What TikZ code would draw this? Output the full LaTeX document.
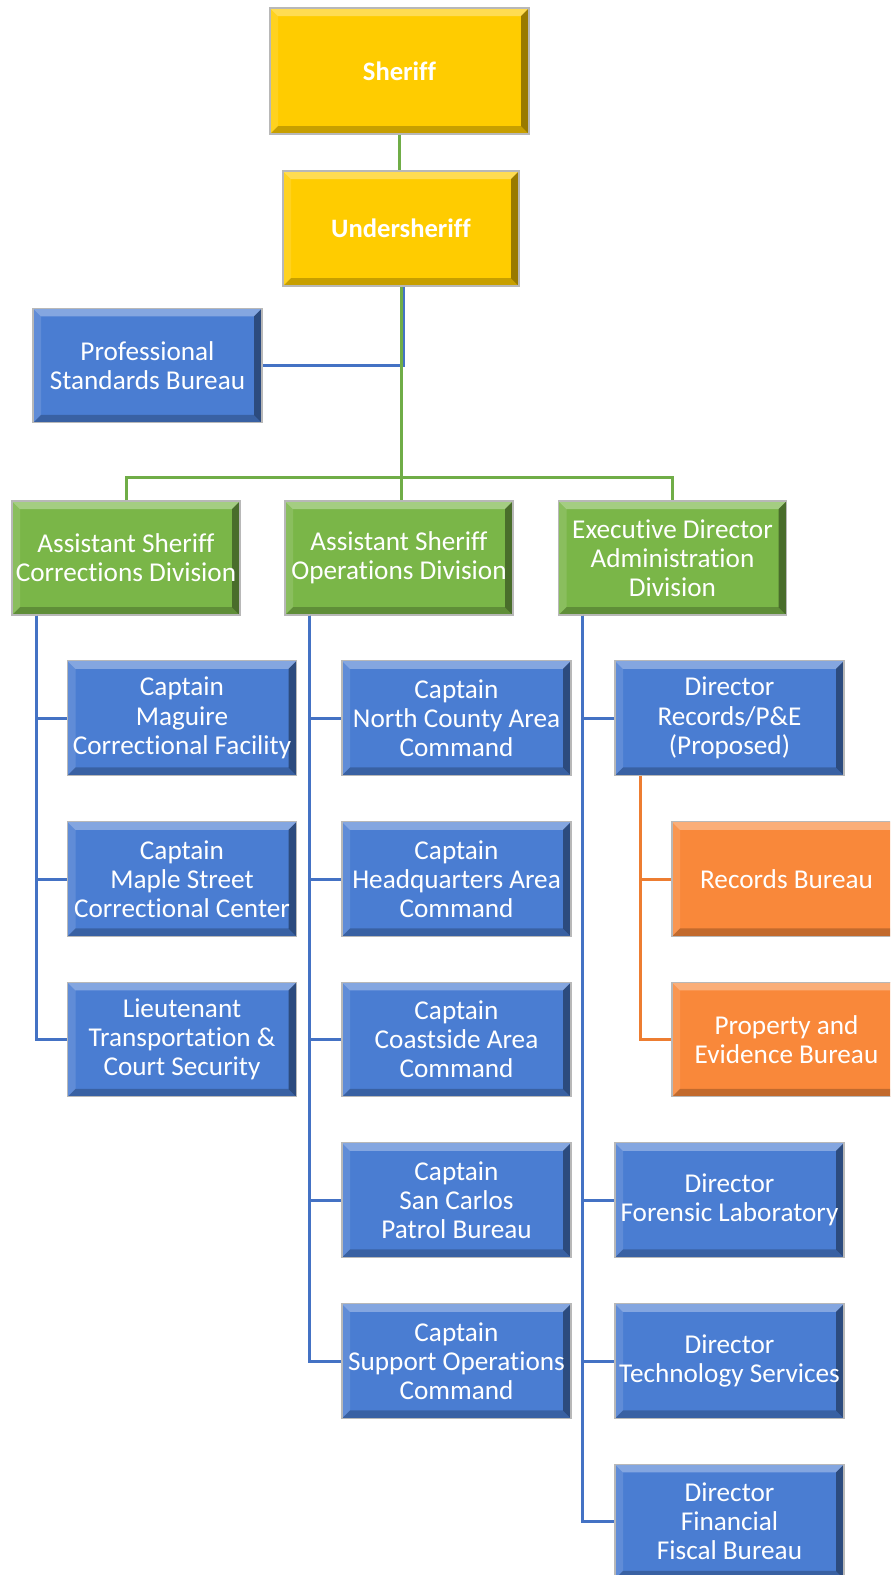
\documentclass[tikz,border=0pt]{standalone}
\usepackage{fontspec}
\setmainfont{Carlito}[Ligatures=NoCommon]
\usetikzlibrary{calc,positioning}
\definecolor{sheriffgold}{RGB}{255,204,0}
\definecolor{boxblue}{RGB}{74,125,210}
\definecolor{boxgreen}{RGB}{122,182,72}
\definecolor{boxorange}{RGB}{249,136,58}
\definecolor{linegreen}{RGB}{112,173,71}
\definecolor{lineblue}{RGB}{68,114,196}
\definecolor{lineorange}{RGB}{237,125,49}
\tikzset{
  bevel/.style={draw=black!28,line width=0.7pt,text=white,align=center,inner sep=0pt,
    font=\fontsize{13.6}{14.6}\selectfont,minimum width=114.5pt,minimum height=57.25pt,
    path picture={
      \coordinate (bnw) at (path picture bounding box.north west);
      \coordinate (bse) at (path picture bounding box.south east);
      \coordinate (bne) at (bse |- bnw);
      \coordinate (bsw) at (bnw |- bse);
      \fill[white,opacity=.32] (bnw) -- (bne) -- ++(-4pt,-4pt) -- ($(bnw)+(4pt,-4pt)$) -- cycle;
      \fill[black,opacity=.40] (bne) -- (bse) -- ++(-4pt,4pt) -- ($(bne)+(-4pt,-4pt)$) -- cycle;
      \fill[black,opacity=.22] (bsw) -- (bse) -- ++(-4pt,4pt) -- ($(bsw)+(4pt,4pt)$) -- cycle;
      \fill[white,opacity=.12] (bnw) -- (bsw) -- ++(4pt,4pt) -- ($(bnw)+(4pt,-4pt)$) -- cycle;
    }},
  goldbox/.style={bevel,fill=sheriffgold,font=\fontsize{13.3}{14.6}\selectfont\bfseries},
  bluebox/.style={bevel,fill=boxblue},
  greenbox/.style={bevel,fill=boxgreen},
  orangebox/.style={bevel,fill=boxorange},
  gline/.style={draw=linegreen,line width=1.5pt},
  bline/.style={draw=lineblue,line width=1.5pt},
  oline/.style={draw=lineorange,line width=1.5pt}
}

\begin{document}
\begin{tikzpicture}[x=0.5pt,y=-0.5pt]
\clip (0,0) rectangle (890,1575);
\fill[white] (0,0) rectangle (890,1575);
% top of the chart
\node[goldbox,minimum width=129.5pt,minimum height=63pt] (sheriff) at (399.5,71) {Sheriff};
\node[goldbox,minimum width=118pt,minimum height=57.5pt] (under) at (401,228.5) {Undersheriff};
\node[bluebox] (psb) at (147.5,365.5) {Professional\\Standards Bureau};
% divisions
\node[greenbox,minimum width=114pt,minimum height=57pt] (corr) at (126,558) {Assistant Sheriff\\Corrections Division};
\node[greenbox,minimum width=114pt,minimum height=57pt] (ops) at (399,558) {Assistant Sheriff\\Operations Division};
\node[greenbox,minimum width=114pt,minimum height=57pt] (adm) at (672.5,558) {Executive Director\\Administration\\Division};
% corrections
\node[bluebox] (cor1) at (182,718) {Captain\\Maguire\\Correctional Facility};
\node[bluebox] (cor2) at (182,879) {Captain\\Maple Street\\Correctional Center};
\node[bluebox] (cor3) at (182,1039.5) {Lieutenant\\Transportation \&\\Court Security};
% operations
\node[bluebox] (ops1) at (456.5,718) {Captain\\North County Area\\Command};
\node[bluebox] (ops2) at (456.5,879) {Captain\\Headquarters Area\\Command};
\node[bluebox] (ops3) at (456.5,1039.5) {Captain\\Coastside Area\\Command};
\node[bluebox] (ops4) at (456.5,1200) {Captain\\San Carlos\\Patrol Bureau};
\node[bluebox] (ops5) at (456.5,1361) {Captain\\Support Operations\\Command};
% administration
\node[bluebox] (recd) at (729.5,718) {Director\\Records/P\&E\\(Proposed)};
\node[orangebox] (recb) at (786.5,879) {Records Bureau};
\node[orangebox] (prop) at (786.5,1039.5) {Property and\\Evidence Bureau};
\node[bluebox] (fore) at (729.5,1200) {Director\\Forensic Laboratory};
\node[bluebox] (tech) at (729.5,1361) {Director\\Technology Services};
\node[bluebox] (fina) at (729.5,1521.5) {Director\\Financial\\Fiscal Bureau};
% connectors
\coordinate (gbus) at (400,477);
\coordinate (corbus) at (36,0);
\coordinate (opsbus) at (309,0);
\coordinate (admbus) at (582,0);
\coordinate (recbus) at (640,0);
\draw[gline] (sheriff.south) -- (sheriff.south |- under.north);
\draw[bline] ([xshift=1pt]under.south) |- (psb.east);
\draw[gline] (under.south) -- (under.south |- ops.north);
\draw[gline] (corr.north) |- (gbus) -| (adm.north);
\draw[bline] (corr.south -| corbus) |- (cor1.west);
\draw[bline] (corr.south -| corbus) |- (cor2.west);
\draw[bline] (corr.south -| corbus) |- (cor3.west);
\draw[bline] (ops.south -| opsbus) |- (ops1.west);
\draw[bline] (ops.south -| opsbus) |- (ops2.west);
\draw[bline] (ops.south -| opsbus) |- (ops3.west);
\draw[bline] (ops.south -| opsbus) |- (ops4.west);
\draw[bline] (ops.south -| opsbus) |- (ops5.west);
\draw[bline] (adm.south -| admbus) |- (recd.west);
\draw[bline] (adm.south -| admbus) |- (fore.west);
\draw[bline] (adm.south -| admbus) |- (tech.west);
\draw[bline] (adm.south -| admbus) |- (fina.west);
\draw[oline] (recd.south -| recbus) |- (recb.west);
\draw[oline] (recd.south -| recbus) |- (prop.west);
\end{tikzpicture}
\end{document}
